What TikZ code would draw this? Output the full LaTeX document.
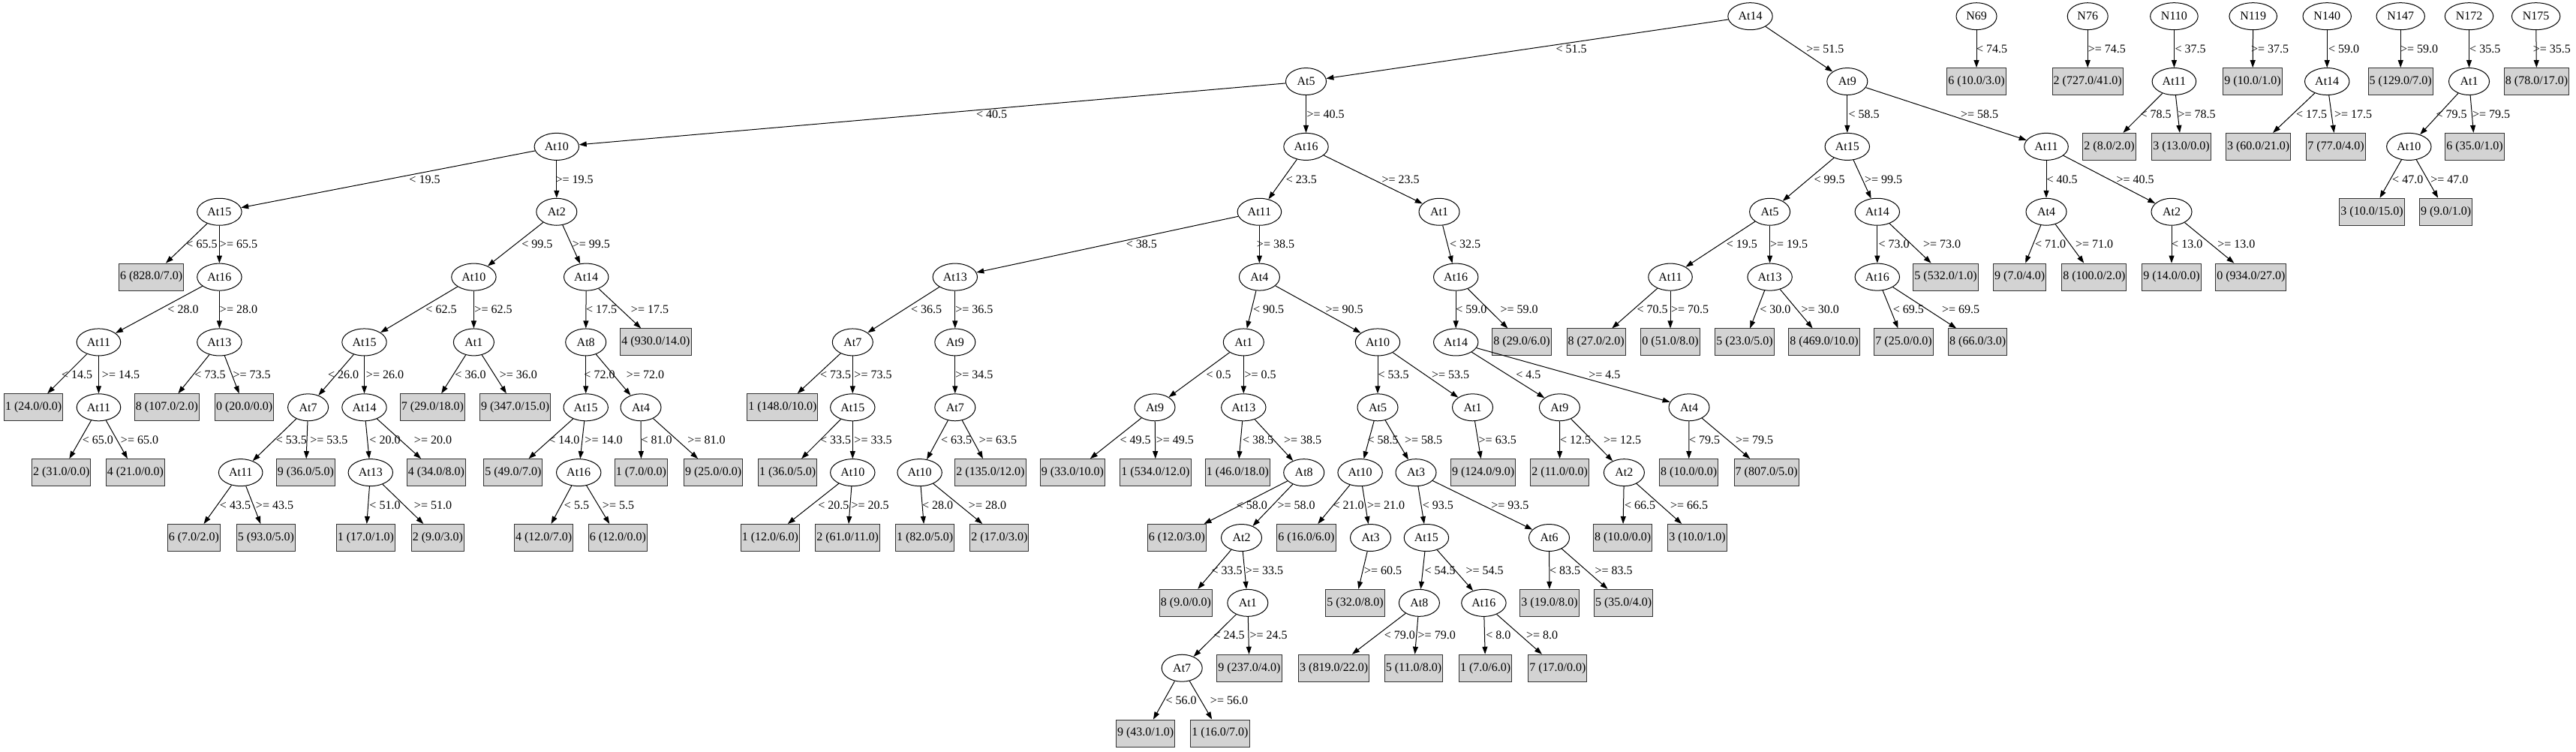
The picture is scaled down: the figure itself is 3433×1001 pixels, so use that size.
\documentclass[tikz,border=0pt]{standalone}
\usepackage{fontspec}
\setmainfont{Liberation Serif}
\usetikzlibrary{arrows.meta,shapes.geometric}
\definecolor{leafgray}{HTML}{D3D3D3}
\newcommand\RY[1]{21.7+86.85*(#1)}
\newcommand\IN[4]{\node[inode] (#1) at (#2,{\RY{#3}}) {#4};}
\newcommand\LF[4]{\node[leaf] (#1) at (#2,{\RY{#3}}) {#4};}
\newcommand\ED[5]{\draw[edge] (#1) -- (#2); \node[lbl] (L#2) at (#4,{\RY{#5+0.5}}) {#3};}
\tikzset{
  base/.style={font=\fontsize{16pt}{18pt}\selectfont},
  inode/.style={base, draw, line width=1pt, ellipse, minimum width=54pt, minimum height=36pt, inner xsep=5pt, inner ysep=0pt},
  leaf/.style={base, draw=black!80, line width=1pt, fill=leafgray, rectangle, minimum height=36pt, inner xsep=1.5pt, inner ysep=0pt},
  lbl/.style={base, inner sep=0pt},
  edge/.style={line width=1pt, -{Triangle[length=10pt,width=7pt]}}
}
\begin{document}
\begin{tikzpicture}[x=1pt,y=-1pt]
\useasboundingbox (0,0) rectangle (3433,1001);
% row 0
\IN{R}{2332.5}{0}{At14}
\IN{N69}{2634}{0}{N69}
\IN{N76}{2782.2}{0}{N76}
\IN{N110}{2897.4}{0}{N110}
\IN{N119}{3002.7}{0}{N119}
\IN{N140}{3101.2}{0}{N140}
\IN{N147}{3199.2}{0}{N147}
\IN{N172}{3290.5}{0}{N172}
\IN{N175}{3379.6}{0}{N175}
% row 1
\IN{a5}{1740.5}{1}{At5}
\IN{a9}{2461.8}{1}{At9}
\LF{l69}{2634}{1}{6 (10.0/3.0)}
\LF{l76}{2782.2}{1}{2 (727.0/41.0)}
\IN{m110}{2897.4}{1}{At11}
\LF{l119}{3002}{1}{9 (10.0/1.0)}
\IN{m140}{3101.2}{1}{At14}
\LF{l147}{3199.2}{1}{5 (129.0/7.0)}
\IN{m172}{3290.5}{1}{At1}
\LF{l175}{3380.5}{1}{8 (78.0/17.0)}
% row 2
\IN{b10}{741.8}{2}{At10}
\IN{b16}{1740.5}{2}{At16}
\IN{b15}{2461.8}{2}{At15}
\IN{b11}{2727}{2}{At11}
\LF{l110a}{2811}{2}{2 (8.0/2.0)}
\LF{l110b}{2907}{2}{3 (13.0/0.0)}
\LF{l140a}{3009.6}{2}{3 (60.0/21.0)}
\LF{l140b}{3113}{2}{7 (77.0/4.0)}
\IN{m10}{3210.3}{2}{At10}
\LF{l172b}{3298}{2}{6 (35.0/1.0)}
% row 3
\IN{c15}{292.4}{3}{At15}
\IN{c2}{741.8}{3}{At2}
\IN{c11}{1678.4}{3}{At11}
\IN{c1}{1918}{3}{At1}
\IN{c5}{2358.6}{3}{At5}
\IN{c14}{2501.8}{3}{At14}
\IN{c4}{2727}{3}{At4}
\IN{c2r}{2894}{3}{At2}
\LF{l10a}{3161}{3}{3 (10.0/15.0)}
\LF{l10b}{3259.6}{3}{9 (9.0/1.0)}
% row 4
\LF{d6}{201.7}{4}{6 (828.0/7.0)}
\IN{d16}{292.4}{4}{At16}
\IN{d10}{631.4}{4}{At10}
\IN{d14}{781.2}{4}{At14}
\IN{d13}{1272.8}{4}{At13}
\IN{d4}{1678.4}{4}{At4}
\IN{d16b}{1940.2}{4}{At16}
\IN{d11}{2226}{4}{At11}
\IN{d13b}{2358.6}{4}{At13}
\IN{d16c}{2501.8}{4}{At16}
\LF{d532}{2593}{4}{5 (532.0/1.0)}
\LF{d9a}{2691.7}{4}{9 (7.0/4.0)}
\LF{d8a}{2790.8}{4}{8 (100.0/2.0)}
\LF{d9b}{2894}{4}{9 (14.0/0.0)}
\LF{d0}{2999.9}{4}{0 (934.0/27.0)}
% row 5
\IN{e11}{131.5}{5}{At11}
\IN{e13}{292.4}{5}{At13}
\IN{e15}{485.5}{5}{At15}
\IN{e1}{631.4}{5}{At1}
\IN{e8}{780.7}{5}{At8}
\LF{e930}{874}{5}{4 (930.0/14.0)}
\IN{e7}{1136.3}{5}{At7}
\IN{e9}{1272.8}{5}{At9}
\IN{e1b}{1657.3}{5}{At1}
\IN{e10}{1836}{5}{At10}
\IN{e14}{1940.2}{5}{At14}
\LF{e29}{2028}{5}{8 (29.0/6.0)}
\LF{e27}{2127.2}{5}{8 (27.0/2.0)}
\LF{e51}{2226}{5}{0 (51.0/8.0)}
\LF{e23}{2325}{5}{5 (23.0/5.0)}
\LF{e469}{2431}{5}{8 (469.0/10.0)}
\LF{e25}{2537}{5}{7 (25.0/0.0)}
\LF{e66}{2635.7}{5}{8 (66.0/3.0)}
% row 6
\LF{f1}{44.7}{6}{1 (24.0/0.0)}
\IN{f11}{131.5}{6}{At11}
\LF{f107}{222.5}{6}{8 (107.0/2.0)}
\LF{f20}{325.7}{6}{0 (20.0/0.0)}
\IN{f7}{410.6}{6}{At7}
\IN{f14}{485.5}{6}{At14}
\LF{f29}{576.5}{6}{7 (29.0/18.0)}
\LF{f347}{686.6}{6}{9 (347.0/15.0)}
\IN{f15}{780.7}{6}{At15}
\IN{f4}{854}{6}{At4}
\LF{f148}{1042.8}{6}{1 (148.0/10.0)}
\IN{f15b}{1136.3}{6}{At15}
\IN{f7b}{1272.8}{6}{At7}
\IN{f9}{1539}{6}{At9}
\IN{f13}{1657.3}{6}{At13}
\IN{f5}{1836}{6}{At5}
\IN{f1b}{1962.5}{6}{At1}
\IN{f9b}{2078.4}{6}{At9}
\IN{f4b}{2251}{6}{At4}
% row 7
\LF{g31}{81.8}{7}{2 (31.0/0.0)}
\LF{g21}{180.3}{7}{4 (21.0/0.0)}
\IN{g11}{320.7}{7}{At11}
\LF{g36}{407.5}{7}{9 (36.0/5.0)}
\IN{g13}{493.8}{7}{At13}
\LF{g34}{581.5}{7}{4 (34.0/8.0)}
\LF{g49}{683.9}{7}{5 (49.0/7.0)}
\IN{g16}{771.2}{7}{At16}
\LF{g7}{854.5}{7}{1 (7.0/0.0)}
\LF{g25}{950.7}{7}{9 (25.0/0.0)}
\LF{g36b}{1049.7}{7}{1 (36.0/5.0)}
\IN{g10}{1136.3}{7}{At10}
\IN{g10b}{1225.6}{7}{At10}
\LF{g135}{1320}{7}{2 (135.0/12.0)}
\LF{g33}{1429.5}{7}{9 (33.0/10.0)}
\LF{g534}{1540}{7}{1 (534.0/12.0)}
\LF{g46}{1649.5}{7}{1 (46.0/18.0)}
\IN{g8}{1737.7}{7}{At8}
\IN{g10c}{1812.6}{7}{At10}
\IN{g3}{1887}{7}{At3}
\LF{g124}{1976.6}{7}{9 (124.0/9.0)}
\LF{g11b}{2078.7}{7}{2 (11.0/0.0)}
\IN{g2}{2164.4}{7}{At2}
\LF{g10d}{2250.7}{7}{8 (10.0/0.0)}
\LF{g807}{2354.2}{7}{7 (807.0/5.0)}
% row 8
\LF{h7}{258.3}{8}{6 (7.0/2.0)}
\LF{h93}{354.5}{8}{5 (93.0/5.0)}
\LF{h17}{487.4}{8}{1 (17.0/1.0)}
\LF{h9}{583.4}{8}{2 (9.0/3.0)}
\LF{h12a}{724.6}{8}{4 (12.0/7.0)}
\LF{h12b}{823.4}{8}{6 (12.0/0.0)}
\LF{h12c}{1026.4}{8}{1 (12.0/6.0)}
\LF{h61}{1129.6}{8}{2 (61.0/11.0)}
\LF{h82}{1232.6}{8}{1 (82.0/5.0)}
\LF{h17b}{1331.9}{8}{2 (17.0/3.0)}
\LF{h12d}{1568.5}{8}{6 (12.0/3.0)}
\IN{h2}{1654.5}{8}{At2}
\LF{h16}{1741}{8}{6 (16.0/6.0)}
\IN{h3}{1826.5}{8}{At3}
\IN{h15}{1900.9}{8}{At15}
\IN{h6}{2064.5}{8}{At6}
\LF{h10}{2162.7}{8}{8 (10.0/0.0)}
\LF{h10b}{2262}{8}{3 (10.0/1.0)}
% row 9
\LF{i9}{1580.5}{9}{8 (9.0/0.0)}
\IN{i1}{1662.8}{9}{At1}
\LF{i32}{1806}{9}{5 (32.0/8.0)}
\IN{i8}{1891.4}{9}{At8}
\IN{i16}{1977.4}{9}{At16}
\LF{i19}{2065}{9}{3 (19.0/8.0)}
\LF{i35}{2163.6}{9}{5 (35.0/4.0)}
% row 10
\IN{j7}{1575.2}{10}{At7}
\LF{j237}{1665}{10}{9 (237.0/4.0)}
\LF{j819}{1777.7}{10}{3 (819.0/22.0)}
\LF{j11}{1884}{10}{5 (11.0/8.0)}
\LF{j7b}{1979.6}{10}{1 (7.0/6.0)}
\LF{j17}{2075.9}{10}{7 (17.0/0.0)}
% row 11
\LF{k43}{1526.6}{11}{9 (43.0/1.0)}
\LF{k16}{1626}{11}{1 (16.0/7.0)}
% edges
\ED{R}{a5}{< 51.5}{2094}{0}
\ED{R}{a9}{>= 51.5}{2432.4}{0}
\ED{N69}{l69}{< 74.5}{2654.7}{0}
\ED{N76}{l76}{>= 74.5}{2807.8}{0}
\ED{N110}{m110}{< 37.5}{2919}{0}
\ED{N119}{l119}{>= 37.5}{3025}{0}
\ED{N140}{m140}{< 59.0}{3123.5}{0}
\ED{N147}{l147}{>= 59.0}{3224}{0}
\ED{N172}{m172}{< 35.5}{3311.7}{0}
\ED{N175}{l175}{>= 35.5}{3400.8}{0}
\ED{a5}{b10}{< 40.5}{1321.6}{1}
\ED{a5}{b16}{>= 40.5}{1766.6}{1}
\ED{a9}{b15}{< 58.5}{2484}{1}
\ED{a9}{b11}{>= 58.5}{2638}{1}
\ED{m110}{l110a}{< 78.5}{2873}{1}
\ED{m110}{l110b}{>= 78.5}{2927.5}{1}
\ED{m140}{l140a}{< 17.5}{3080.6}{1}
\ED{m140}{l140b}{>= 17.5}{3136}{1}
\ED{m172}{m10}{< 79.5}{3267}{1}
\ED{m172}{l172b}{>= 79.5}{3320}{1}
\ED{b10}{c15}{< 19.5}{566}{2}
\ED{b10}{c2}{>= 19.5}{765.7}{2}
\ED{b16}{c11}{< 23.5}{1734.4}{2}
\ED{b16}{c1}{>= 23.5}{1866.5}{2}
\ED{b15}{c5}{< 99.5}{2438}{2}
\ED{b15}{c14}{>= 99.5}{2510}{2}
\ED{b11}{c4}{< 40.5}{2748}{2}
\ED{b11}{c2r}{>= 40.5}{2845.6}{2}
\ED{m10}{l10a}{< 47.0}{3208.7}{2}
\ED{m10}{l10b}{>= 47.0}{3264.3}{2}
\ED{c15}{d6}{< 65.5}{269}{3}
\ED{c15}{d16}{>= 65.5}{318}{3}
\ED{c2}{d10}{< 99.5}{715.8}{3}
\ED{c2}{d14}{>= 99.5}{787.9}{3}
\ED{c11}{d13}{< 38.5}{1521.4}{3}
\ED{c11}{d4}{>= 38.5}{1700}{3}
\ED{c1}{d16b}{< 32.5}{1952.5}{3}
\ED{c5}{d11}{< 19.5}{2321.4}{3}
\ED{c5}{d13b}{>= 19.5}{2384}{3}
\ED{c14}{d16c}{< 73.0}{2524}{3}
\ED{c14}{d532}{>= 73.0}{2588}{3}
\ED{c4}{d9a}{< 71.0}{2732.6}{3}
\ED{c4}{d8a}{>= 71.0}{2791}{3}
\ED{c2r}{d9b}{< 13.0}{2914.7}{3}
\ED{c2r}{d0}{>= 13.0}{2980.4}{3}
\ED{d16}{e11}{< 28.0}{244}{4}
\ED{d16}{e13}{>= 28.0}{318}{4}
\ED{d10}{e15}{< 62.5}{588}{4}
\ED{d10}{e1}{>= 62.5}{657.5}{4}
\ED{d14}{e8}{< 17.5}{801.7}{4}
\ED{d14}{e930}{>= 17.5}{866}{4}
\ED{d13}{e7}{< 36.5}{1234.5}{4}
\ED{d13}{e9}{>= 36.5}{1298.3}{4}
\ED{d4}{e1b}{< 90.5}{1690.6}{4}
\ED{d4}{e10}{>= 90.5}{1791.5}{4}
\ED{d16b}{e14}{< 59.0}{1960.8}{4}
\ED{d16b}{e29}{>= 59.0}{2024.6}{4}
\ED{d11}{e27}{< 70.5}{2202}{4}
\ED{d11}{e51}{>= 70.5}{2252}{4}
\ED{d13b}{e23}{< 30.0}{2365.8}{4}
\ED{d13b}{e469}{>= 30.0}{2425.7}{4}
\ED{d16c}{e25}{< 69.5}{2543.4}{4}
\ED{d16c}{e66}{>= 69.5}{2613}{4}
\ED{e11}{f1}{< 14.5}{102.6}{5}
\ED{e11}{f11}{>= 14.5}{161}{5}
\ED{e13}{f107}{< 73.5}{280}{5}
\ED{e13}{f20}{>= 73.5}{335.7}{5}
\ED{e15}{f7}{< 26.0}{457.7}{5}
\ED{e15}{f14}{>= 26.0}{513}{5}
\ED{e1}{f29}{< 36.0}{627}{5}
\ED{e1}{f347}{>= 36.0}{690.8}{5}
\ED{e8}{f15}{< 72.0}{799}{5}
\ED{e8}{f4}{>= 72.0}{860}{5}
\ED{e7}{f148}{< 73.5}{1113.5}{5}
\ED{e7}{f15b}{>= 73.5}{1163.5}{5}
\ED{e9}{f7b}{>= 34.5}{1298.3}{5}
\ED{e1b}{f9}{< 0.5}{1624}{5}
\ED{e1b}{f13}{>= 0.5}{1679.5}{5}
\ED{e10}{f5}{< 53.5}{1857}{5}
\ED{e10}{f1b}{>= 53.5}{1933}{5}
\ED{e14}{f9b}{< 4.5}{2036.8}{5}
\ED{e14}{f4b}{>= 4.5}{2138.3}{5}
\ED{f11}{g31}{< 65.0}{130.4}{6}
\ED{f11}{g21}{>= 65.0}{186}{6}
\ED{f7}{g11}{< 53.5}{388.4}{6}
\ED{f7}{g36}{>= 53.5}{438.3}{6}
\ED{f14}{g13}{< 20.0}{513}{6}
\ED{f14}{g34}{>= 20.0}{577}{6}
\ED{f15}{g49}{< 14.0}{751.8}{6}
\ED{f15}{g16}{>= 14.0}{804.5}{6}
\ED{f4}{g7}{< 81.0}{875}{6}
\ED{f4}{g25}{>= 81.0}{941.5}{6}
\ED{f15b}{g36b}{< 33.5}{1113.5}{6}
\ED{f15b}{g10}{>= 33.5}{1163.5}{6}
\ED{f7b}{g10b}{< 63.5}{1274.5}{6}
\ED{f7b}{g135}{>= 63.5}{1330}{6}
\ED{f9}{g33}{< 49.5}{1513}{6}
\ED{f9}{g534}{>= 49.5}{1565.8}{6}
\ED{f13}{g46}{< 38.5}{1676.7}{6}
\ED{f13}{g8}{>= 38.5}{1736}{6}
\ED{f5}{g10c}{< 58.5}{1843}{6}
\ED{f5}{g3}{>= 58.5}{1897}{6}
\ED{f1b}{g124}{>= 63.5}{1995.7}{6}
\ED{f9b}{g11b}{< 12.5}{2099.5}{6}
\ED{f9b}{g2}{>= 12.5}{2162}{6}
\ED{f4b}{g10d}{< 79.5}{2271.5}{6}
\ED{f4b}{g807}{>= 79.5}{2338}{6}
\ED{g11}{h7}{< 43.5}{313.5}{7}
\ED{g11}{h93}{>= 43.5}{366}{7}
\ED{g13}{h17}{< 51.0}{513}{7}
\ED{g13}{h9}{>= 51.0}{577}{7}
\ED{g16}{h12a}{< 5.5}{768.5}{7}
\ED{g16}{h12b}{>= 5.5}{824}{7}
\ED{g10}{h12c}{< 20.5}{1110.8}{7}
\ED{g10}{h61}{>= 20.5}{1159.6}{7}
\ED{g10b}{h82}{< 28.0}{1249.5}{7}
\ED{g10b}{h17b}{>= 28.0}{1316}{7}
\ED{g8}{h12d}{< 58.0}{1668.4}{7}
\ED{g8}{h2}{>= 58.0}{1727.7}{7}
\ED{g10c}{h16}{< 21.0}{1797}{7}
\ED{g10c}{h3}{>= 21.0}{1847}{7}
\ED{g3}{h15}{< 93.5}{1916.4}{7}
\ED{g3}{h6}{>= 93.5}{2012.4}{7}
\ED{g2}{h10}{< 66.5}{2185.5}{7}
\ED{g2}{h10b}{>= 66.5}{2251}{7}
\ED{h2}{i9}{< 33.5}{1635}{8}
\ED{h2}{i1}{>= 33.5}{1685}{8}
\ED{h3}{i32}{>= 60.5}{1843}{8}
\ED{h15}{i8}{< 54.5}{1919}{8}
\ED{h15}{i16}{>= 54.5}{1978.5}{8}
\ED{h6}{i19}{< 83.5}{2085.6}{8}
\ED{h6}{i35}{>= 83.5}{2150.5}{8}
\ED{i1}{j7}{< 24.5}{1638}{9}
\ED{i1}{j237}{>= 24.5}{1690.6}{9}
\ED{i8}{j819}{< 79.0}{1865.3}{9}
\ED{i8}{j11}{>= 79.0}{1914.7}{9}
\ED{i16}{j7b}{< 8.0}{1996.8}{9}
\ED{i16}{j17}{>= 8.0}{2055}{9}
\ED{j7}{k43}{< 56.0}{1574}{10}
\ED{j7}{k16}{>= 56.0}{1638}{10}
\end{tikzpicture}
\end{document}
